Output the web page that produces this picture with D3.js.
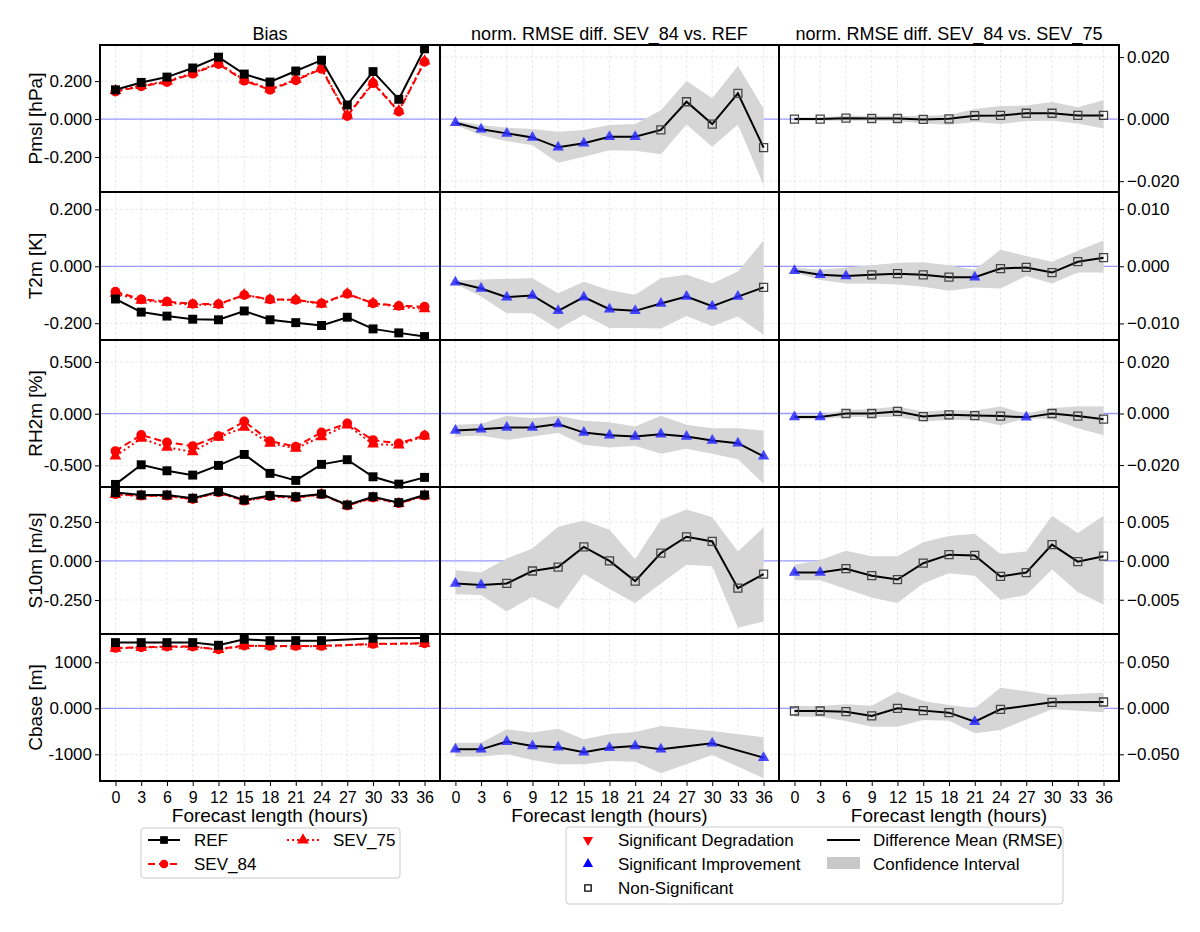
<!DOCTYPE html>
<html>
<head>
<meta charset="utf-8">
<script src="https://cdn.jsdelivr.net/npm/d3@7"></script>
<style>
  body { margin: 0; background: #fff; }
  text { font-family: "Liberation Sans", Arial, sans-serif; }
</style>
</head>
<body>
<svg id="chart" width="1200" height="932"></svg>
<script>
// forecast lengths
var hours = [0, 3, 6, 9, 12, 15, 18, 21, 24, 27, 30, 33, 36];
var xTicks = hours;

var rowNames = ["Pmsl [hPa]", "T2m [K]", "RH2m [%]", "S10m [m/s]", "Cbase [m]"];
var colTitles = ["Bias", "norm. RMSE diff. SEV_84 vs. REF", "norm. RMSE diff. SEV_84 vs. SEV_75"];

// bias panels
var biasDomains = [[-0.384, 0.39], [-0.259, 0.261], [-0.709, 0.713], [-0.468, 0.474], [-1580, 1615]];
var biasTicks = [[-0.2, 0, 0.2], [-0.2, 0, 0.2], [-0.5, 0, 0.5], [-0.25, 0, 0.25], [-1000, 0, 1000]];
var biasTickLabels = [["-0.200", "0.000", "0.200"], ["-0.200", "0.000", "0.200"], ["-0.500", "0.000", "0.500"],
  ["-0.250", "0.000", "0.250"], ["-1000", "0.000", "1000"]];

var refBias = [
  [0.154, 0.193, 0.221, 0.269, 0.326, 0.237, 0.195, 0.253, 0.310, 0.074, 0.250, 0.104, 0.370],
  [-0.115, -0.161, -0.175, -0.186, -0.188, -0.157, -0.188, -0.198, -0.208, -0.179, -0.220, -0.234, -0.247],
  [-0.684, -0.494, -0.552, -0.594, -0.500, -0.394, -0.577, -0.645, -0.490, -0.445, -0.610, -0.681, -0.616],
  [0.438, 0.423, 0.423, 0.402, 0.444, 0.391, 0.419, 0.412, 0.429, 0.359, 0.412, 0.374, 0.423],
  [1428, 1428, 1428, 1428, 1370, 1500, 1471, 1471, 1471, null, 1522, null, 1529]
];
var sev84Bias = [
  [0.145, 0.172, 0.195, 0.239, 0.290, 0.202, 0.154, 0.204, 0.264, 0.016, 0.189, 0.039, 0.301],
  [-0.089, -0.116, -0.124, -0.132, -0.133, -0.101, -0.116, -0.118, -0.130, -0.097, -0.130, -0.139, -0.142],
  [-0.361, -0.206, -0.277, -0.313, -0.216, -0.074, -0.265, -0.319, -0.181, -0.094, -0.255, -0.287, -0.210],
  [0.428, 0.418, 0.418, 0.397, 0.440, 0.386, 0.415, 0.406, 0.428, 0.355, 0.406, 0.370, 0.419],
  [1312, 1326, 1341, 1341, 1283, 1362, 1355, 1355, 1355, null, 1399, null, 1413]
];
var sev75Bias = [
  [0.150, 0.176, 0.199, 0.243, 0.294, 0.206, 0.158, 0.208, 0.268, 0.020, 0.193, 0.043, 0.305],
  [-0.095, -0.120, -0.128, -0.135, -0.135, -0.100, -0.118, -0.118, -0.133, -0.097, -0.130, -0.142, -0.150],
  [-0.410, -0.239, -0.326, -0.368, -0.229, -0.132, -0.287, -0.335, -0.223, -0.110, -0.294, -0.303, -0.216],
  [0.426, 0.416, 0.416, 0.396, 0.438, 0.385, 0.413, 0.405, 0.426, 0.354, 0.405, 0.368, 0.418],
  [1305, 1320, 1335, 1335, 1278, 1356, 1350, 1350, 1350, null, 1394, null, 1408]
];

// RMSE difference panels (shared y axis per row, labels on right)
var diffDomains = [[-0.0235, 0.0239], [-0.0129, 0.013], [-0.0285, 0.0285], [-0.0094, 0.0095], [-0.079, 0.0808]];
var diffTicks = [[-0.02, 0, 0.02], [-0.01, 0, 0.01], [-0.02, 0, 0.02], [-0.005, 0, 0.005], [-0.05, 0, 0.05]];

// SEV_84 vs REF
var refMean = [
  [-0.0012, -0.0033, -0.0046, -0.0059, -0.0091, -0.0078, -0.0057, -0.0057, -0.0035, 0.0056, -0.0016, 0.0083, -0.0092],
  [-0.0028, -0.0039, -0.0054, -0.0051, -0.0078, -0.0054, -0.0075, -0.0078, -0.0065, -0.0053, -0.0070, -0.0053, -0.0037],
  [-0.0066, -0.0061, -0.0054, -0.0054, -0.0041, -0.0074, -0.0084, -0.0089, -0.0080, -0.0089, -0.0105, -0.0115, -0.0166],
  [-0.0029, -0.0031, -0.0029, -0.0013, -0.0008, 0.0018, 0.0000, -0.0026, 0.0010, 0.0031, 0.0025, -0.0035, -0.0017],
  [-0.0446, -0.0446, -0.0362, -0.0409, -0.0424, -0.0478, -0.0428, -0.0409, -0.0446, null, -0.0380, null, -0.0536]
];
var refUpper = [
  [-0.0005, -0.0019, -0.0028, -0.0032, -0.0041, -0.0035, -0.0019, -0.0016, 0.0029, 0.0123, 0.0067, 0.0171, 0.0034],
  [-0.0025, -0.0023, -0.0022, -0.0021, -0.0047, -0.0027, -0.0042, -0.0050, -0.0021, -0.0015, -0.0030, -0.0009, 0.0045],
  [-0.0044, -0.0040, -0.0009, -0.0018, -0.0009, -0.0028, -0.0034, -0.0050, -0.0009, -0.0044, -0.0057, -0.0057, -0.0066],
  [-0.0012, -0.0015, 0.0003, 0.0016, 0.0044, 0.0052, 0.0040, 0.0002, 0.0053, 0.0066, 0.0056, 0.0012, 0.0043],
  [-0.0373, -0.0373, -0.0228, -0.0264, -0.0221, -0.0337, -0.0279, -0.0257, -0.0192, null, -0.0246, null, -0.0315]
];
var refLower = [
  [-0.0019, -0.0052, -0.0071, -0.0084, -0.0141, -0.0121, -0.0100, -0.0102, -0.0113, -0.0017, -0.0089, -0.0017, -0.0213],
  [-0.0031, -0.0053, -0.0082, -0.0082, -0.0110, -0.0085, -0.0108, -0.0108, -0.0109, -0.0087, -0.0105, -0.0088, -0.0120],
  [-0.0089, -0.0086, -0.0102, -0.0089, -0.0076, -0.0121, -0.0132, -0.0125, -0.0156, -0.0137, -0.0156, -0.0177, -0.0272],
  [-0.0043, -0.0044, -0.0065, -0.0046, -0.0062, -0.0017, -0.0036, -0.0054, -0.0029, -0.0005, -0.0007, -0.0086, -0.0078],
  [-0.0525, -0.0525, -0.0500, -0.0562, -0.0609, -0.0609, -0.0572, -0.0580, -0.0707, null, -0.0507, null, -0.0761]
];
// significance: "i" improvement, "d" degradation, "n" non-significant
var refSig = [
  "iiiiiiiinnnnn",
  "iiiiiiiiiiiin",
  "iiiiiiiiiiiii",
  "iinnnnnnnnnnn",
  "iiiiiiiiiiiii"
];

// SEV_84 vs SEV_75
var s75Mean = [
  [0.0000, 0.0000, 0.0003, 0.0002, 0.0002, -0.0001, 0.0001, 0.0011, 0.0012, 0.0019, 0.0019, 0.0012, 0.0012],
  [-0.0008, -0.0015, -0.0017, -0.0015, -0.0013, -0.0015, -0.0019, -0.0019, -0.0004, -0.0002, -0.0011, 0.0008, 0.0015],
  [-0.0014, -0.0014, 0.0000, 0.0000, 0.0008, -0.0012, -0.0005, -0.0008, -0.0010, -0.0015, 0.0000, -0.0010, -0.0022],
  [-0.0015, -0.0015, -0.0010, -0.0019, -0.0024, -0.0003, 0.0008, 0.0007, -0.0020, -0.0015, 0.0021, -0.0001, 0.0006],
  [-0.0029, -0.0029, -0.0036, -0.0083, 0.0000, -0.0025, -0.0047, -0.0145, -0.0011, null, 0.0065, null, 0.0069]
];
var s75Upper = [
  [0.0005, 0.0005, 0.0012, 0.0010, 0.0010, 0.0011, 0.0013, 0.0033, 0.0042, 0.0044, 0.0055, 0.0038, 0.0061],
  [-0.0002, -0.0006, -0.0002, 0.0002, 0.0006, 0.0007, 0.0002, -0.0006, 0.0029, 0.0018, 0.0008, 0.0027, 0.0045],
  [-0.0005, -0.0005, 0.0014, 0.0017, 0.0027, 0.0008, 0.0014, 0.0012, 0.0027, -0.0001, 0.0021, 0.0027, 0.0027],
  [-0.0005, 0.0001, 0.0013, 0.0006, 0.0006, 0.0024, 0.0032, 0.0035, 0.0009, 0.0012, 0.0058, 0.0036, 0.0058],
  [0.0025, 0.0025, 0.0043, 0.0029, 0.0181, 0.0080, 0.0036, 0.0000, 0.0225, null, 0.0145, null, 0.0170]
];
var s75Lower = [
  [-0.0005, -0.0005, -0.0005, -0.0005, -0.0006, -0.0014, -0.0018, -0.0009, -0.0016, -0.0006, -0.0005, -0.0014, -0.0030],
  [-0.0011, -0.0024, -0.0030, -0.0030, -0.0032, -0.0036, -0.0043, -0.0037, -0.0039, -0.0017, -0.0030, -0.0011, -0.0011],
  [-0.0022, -0.0022, -0.0014, -0.0014, -0.0014, -0.0031, -0.0025, -0.0025, -0.0046, -0.0018, -0.0022, -0.0057, -0.0084],
  [-0.0025, -0.0025, -0.0036, -0.0047, -0.0054, -0.0029, -0.0016, -0.0019, -0.0050, -0.0044, -0.0011, -0.0040, -0.0056],
  [-0.0091, -0.0091, -0.0138, -0.0199, -0.0199, -0.0127, -0.0134, -0.0272, -0.0236, null, -0.0011, null, -0.0043]
];
var s75Sig = [
  "nnnnnnnnnnnnn",
  "iiinnnninnnnn",
  "iinnnnnnnnnnn".replace(/^(.{9})n/, "$1i"),
  "iinnnnnnnnnnn",
  "nnnnnnninnnnn"
];

var colX = [100, 440, 779, 1119];
var rowY = [45, 192, 340, 487, 634, 781];

var svg = d3.select("#chart");

function fmt3(d) { return d3.format(".3f")(d); }

function panel(c, r) {
  var x = d3.scaleLinear().domain([-1.8, 37.8]).range([colX[c], colX[c + 1]]);
  var yDom = c == 0 ? biasDomains[r] : diffDomains[r];
  var y = d3.scaleLinear().domain(yDom).range([rowY[r + 1], rowY[r]]);
  var g = svg.append("g");
  var yt = c == 0 ? biasTicks[r] : diffTicks[r];

  // grid
  g.selectAll(".gx").data(xTicks).enter().append("line")
    .attr("x1", d => x(d)).attr("x2", d => x(d))
    .attr("y1", rowY[r]).attr("y2", rowY[r + 1])
    .attr("stroke", "#e3e3e3").attr("stroke-dasharray", "3,2").attr("stroke-width", 0.8);
  g.selectAll(".gy").data(yt).enter().append("line")
    .attr("x1", colX[c]).attr("x2", colX[c + 1])
    .attr("y1", d => y(d)).attr("y2", d => y(d))
    .attr("stroke", "#e3e3e3").attr("stroke-dasharray", "3,2").attr("stroke-width", 0.8);
  // zero line
  g.append("line").attr("x1", colX[c]).attr("x2", colX[c + 1])
    .attr("y1", y(0)).attr("y2", y(0)).attr("stroke", "#9a9aff").attr("stroke-width", 1.3);
  return { g: g, x: x, y: y };
}

function pts(vals) {
  var out = [];
  hours.forEach((h, i) => { if (vals[i] != null) out.push({ h: h, v: vals[i], i: i }); });
  return out;
}

function marker(g, type, cx, cy, size, fill, stroke) {
  var sym = type == "square" ? d3.symbolSquare : type == "circle" ? d3.symbolCircle : d3.symbolTriangle;
  return g.append("path").attr("d", d3.symbol().type(sym).size(size)())
    .attr("transform", "translate(" + cx + "," + cy + ")")
    .attr("fill", fill).attr("stroke", stroke || "none").attr("stroke-width", 1.3);
}

for (var r = 0; r < 5; r++) {
  // bias column
  var p = panel(0, r);
  var series = [
    { vals: sev75Bias[r], color: "red", dash: "2,3", mk: "triangle", size: 60 },
    { vals: sev84Bias[r], color: "red", dash: "7,4", mk: "circle", size: 75 },
    { vals: refBias[r], color: "black", dash: null, mk: "square", size: 80 }
  ];
  series.forEach(s => {
    var d = pts(s.vals);
    var line = d3.line().x(q => p.x(q.h)).y(q => p.y(q.v));
    p.g.append("path").attr("d", line(d)).attr("fill", "none")
      .attr("stroke", s.color).attr("stroke-width", 2).attr("stroke-dasharray", s.dash);
    d.forEach(q => marker(p.g, s.mk, p.x(q.h), p.y(q.v), s.size, s.color));
  });
  var yAx = d3.axisLeft(p.y).tickValues(biasTicks[r]).tickFormat((d, i) => biasTickLabels[r][i]).tickSizeOuter(0).tickSize(5);
  var ag = svg.append("g").attr("transform", "translate(" + colX[0] + ",0)").call(yAx);
  ag.select(".domain").remove();
  ag.attr("font-size", 17).attr("font-family", null);
  ag.selectAll("text").attr("fill", "#000");
  svg.append("text").attr("transform", "translate(42," + (rowY[r] + rowY[r + 1]) / 2 + ") rotate(-90)")
    .attr("text-anchor", "middle").attr("font-size", 19).text(rowNames[r]);

  // diff columns
  [[refMean, refUpper, refLower, refSig], [s75Mean, s75Upper, s75Lower, s75Sig]].forEach((set, k) => {
    var c = k + 1;
    var p2 = panel(c, r);
    var band = pts(set[0][r]).map(q => ({ h: q.h, v: q.v, up: set[1][r][q.i], lo: set[2][r][q.i], i: q.i }));
    var area = d3.area().x(q => p2.x(q.h)).y0(q => p2.y(q.lo)).y1(q => p2.y(q.up));
    p2.g.append("path").attr("d", area(band)).attr("fill", "#d6d6d6");
    var line = d3.line().x(q => p2.x(q.h)).y(q => p2.y(q.v));
    p2.g.append("path").attr("d", line(band)).attr("fill", "none").attr("stroke", "black").attr("stroke-width", 2);
    band.forEach(q => {
      var s = set[3][r][q.i];
      if (s == "i") marker(p2.g, "triangle", p2.x(q.h), p2.y(q.v), 55, "rgba(40,40,255,0.85)");
      else if (s == "d") marker(p2.g, "triangle", p2.x(q.h), p2.y(q.v), 55, "red");
      else marker(p2.g, "square", p2.x(q.h), p2.y(q.v), 64, "none", "#444");
    });
  });
  var rAx = d3.axisRight(d3.scaleLinear().domain(diffDomains[r]).range([rowY[r + 1], rowY[r]]))
    .tickValues(diffTicks[r]).tickFormat(fmt3).tickSizeOuter(0).tickSize(5);
  var rg = svg.append("g").attr("transform", "translate(" + colX[3] + ",0)").call(rAx);
  rg.select(".domain").remove();
  rg.attr("font-size", 17).attr("font-family", null);
  rg.selectAll("text").attr("fill", "#000");
}

// frames
for (var c = 0; c < 3; c++) {
  for (var r2 = 0; r2 < 5; r2++) {
    svg.append("rect").attr("x", colX[c]).attr("y", rowY[r2])
      .attr("width", colX[c + 1] - colX[c]).attr("height", rowY[r2 + 1] - rowY[r2])
      .attr("fill", "none").attr("stroke", "black").attr("stroke-width", 2);
  }
  svg.append("text").attr("x", (colX[c] + colX[c + 1]) / 2).attr("y", 40)
    .attr("text-anchor", "middle").attr("font-size", 18).text(colTitles[c]);
  var xs = d3.scaleLinear().domain([-1.8, 37.8]).range([colX[c], colX[c + 1]]);
  var xg = svg.append("g").attr("transform", "translate(0," + rowY[5] + ")")
    .call(d3.axisBottom(xs).tickValues(xTicks).tickSizeOuter(0).tickSize(5));
  xg.select(".domain").remove();
  xg.attr("font-size", 16).attr("font-family", null);
  xg.selectAll("text").attr("fill", "#000").attr("dy", "0.85em");
  svg.append("text").attr("x", (colX[c] + colX[c + 1]) / 2).attr("y", 822)
    .attr("text-anchor", "middle").attr("font-size", 19).text("Forecast length (hours)");
}

// legend 1
var l1 = svg.append("g");
l1.append("rect").attr("x", 141).attr("y", 828).attr("width", 259).attr("height", 50).attr("rx", 3)
  .attr("fill", "#fff").attr("stroke", "#ccc");
var leg1 = [
  { name: "REF", x: 148, y: 840, color: "black", dash: null, mk: "square" },
  { name: "SEV_84", x: 148, y: 864, color: "red", dash: "7,4", mk: "circle" },
  { name: "SEV_75", x: 287, y: 840, color: "red", dash: "2,3", mk: "triangle" }
];
leg1.forEach(d => {
  l1.append("line").attr("x1", d.x).attr("x2", d.x + 32).attr("y1", d.y).attr("y2", d.y)
    .attr("stroke", d.color).attr("stroke-width", 2).attr("stroke-dasharray", d.dash);
  marker(l1, d.mk, d.x + 16, d.y, 60, d.color);
  l1.append("text").attr("x", d.x + 46).attr("y", d.y + 6).attr("font-size", 17).text(d.name);
});

// legend 2
var l2 = svg.append("g");
l2.append("rect").attr("x", 566).attr("y", 827).attr("width", 497).attr("height", 77).attr("rx", 3)
  .attr("fill", "#fff").attr("stroke", "#ccc");
marker(l2, "triangle", 588, 840, 45, "red").attr("transform", "translate(588,840) rotate(180)");
l2.append("text").attr("x", 618).attr("y", 846).attr("font-size", 17).text("Significant Degradation");
marker(l2, "triangle", 588, 864, 45, "blue");
l2.append("text").attr("x", 618).attr("y", 870).attr("font-size", 17).text("Significant Improvement");
marker(l2, "square", 588, 888, 40, "none", "black");
l2.append("text").attr("x", 618).attr("y", 894).attr("font-size", 17).text("Non-Significant");
l2.append("line").attr("x1", 827).attr("x2", 860).attr("y1", 840).attr("y2", 840).attr("stroke", "black").attr("stroke-width", 2);
l2.append("text").attr("x", 873).attr("y", 846).attr("font-size", 17).text("Difference Mean (RMSE)");
l2.append("rect").attr("x", 827).attr("y", 857).attr("width", 33).attr("height", 12).attr("fill", "#c8c8c8");
l2.append("text").attr("x", 873).attr("y", 870).attr("font-size", 17).text("Confidence Interval");
</script>
</body>
</html>
